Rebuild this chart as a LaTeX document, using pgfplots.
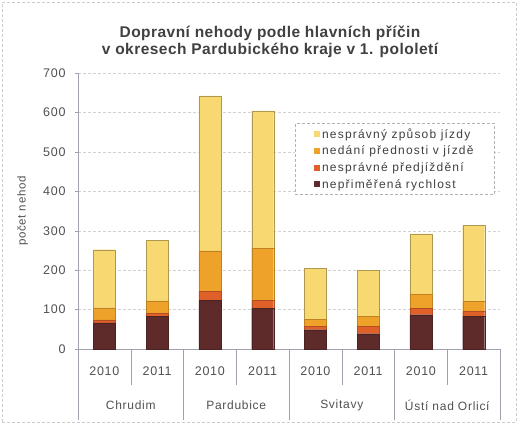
\documentclass[border=0pt]{standalone}
\usepackage{pgfplots}
\pgfplotsset{compat=1.18}
\usepackage{fontspec}
\setmainfont{Liberation Sans}
\newfontfamily\spfA[LetterSpace=6]{Liberation Sans}
\newfontfamily\spfL[LetterSpace=10]{Liberation Sans}
\newfontfamily\spfT[LetterSpace=3]{Liberation Sans}
\definecolor{cYel}{HTML}{F8D870}
\definecolor{cOra}{HTML}{EFA22A}
\definecolor{cRed}{HTML}{E0602A}
\definecolor{cDrk}{HTML}{5E2A2A}
\definecolor{txt}{HTML}{505050}
\definecolor{axc}{HTML}{A0A0B0}
\begin{document}
\begin{tikzpicture}[x=1pt,y=1pt]
\path[use as bounding box] (0,0) rectangle (518,424);
\draw[densely dashed, gray!40] (2,2) rectangle (516,422);
\begin{axis}[
  at={(78pt,75pt)}, anchor=south west,
  scale only axis, width=422pt, height=276pt,
  ybar stacked, bar width=22pt,
  xmin=-0.5, xmax=7.5, ymin=0, ymax=700,
  ytick={0,100,...,700},
  xtick={0,...,7},
  xticklabels={2010,2011,2010,2011,2010,2011,2010,2011},
  xtick style={draw=none},
  x tick label style={font=\spfA\fontsize{12.5}{13}\selectfont, text=txt, yshift=-11pt},
  y tick label style={font=\spfA\fontsize{12.5}{13}\selectfont, text=txt, xshift=-6pt},
  /pgf/number format/assume math mode=true,
  ytick style={axc, thin},
  tick align=outside, major tick length=3pt,
  ymajorgrids, grid style={densely dashed, gray!35},
  axis x line*=bottom, axis y line*=left,
  axis line style={axc, thin},
  x axis line style={-}, y axis line style={-},
  ylabel={počet nehod},
  ylabel style={font=\spfA\fontsize{11.5}{12}\selectfont, text=txt, at={(axis description cs:-0.131,0.5)}, anchor=center},
  title={Dopravní nehody podle hlavních příčin\\v okresech Pardubického kraje v 1. pololetí},
  title style={font=\spfT\fontsize{15.5}{17.5}\selectfont\bfseries, text=txt!80!black, align=center, at={(axis description cs:0.455,1.02)}, anchor=south},
  clip=false,
  legend style={at={(axis description cs:0.514,0.818)}, anchor=north west, draw=gray!60, densely dashed, font=\spfL\fontsize{12}{13.5}\selectfont, text=txt!80!black, inner xsep=19pt, inner ysep=3pt, row sep=2.3pt},
  legend cell align=left,
  reverse legend,
  legend image code/.code={\draw[solid,fill,draw=none] (0pt,-3pt) rectangle (6pt,3pt);},
]
\addplot[fill=cDrk, draw=cDrk!80!black, very thin] coordinates {(0,66) (1,83) (2,123) (3,104) (4,49) (5,39) (6,87) (7,83)};
\addplot[fill=cRed, draw=cRed!80!black, very thin] coordinates {(0,8) (1,8) (2,23) (3,19) (4,8) (5,18) (6,17) (7,12)};
\addplot[fill=cOra, draw=cOra!80!black, very thin] coordinates {(0,31) (1,31) (2,103) (3,133) (4,19) (5,26) (6,35) (7,26)};
\addplot[fill=cYel, draw=cYel!70!black, very thin] coordinates {(0,147) (1,153) (2,393) (3,348) (4,129) (5,116) (6,153) (7,192)};
\legend{nepřiměřená rychlost, nesprávné předjíždění, nedání přednosti v jízdě, nesprávný způsob jízdy}
% separators
\pgfplotsinvokeforeach{0.5,2.5,4.5,6.5}{
  \draw[axc, thin] (axis cs:#1,0) -- ([yshift=-36pt]axis cs:#1,0);
}
\pgfplotsinvokeforeach{-0.5,1.5,3.5,5.5,7.5}{
  \draw[axc, thin] (axis cs:#1,0) -- ([yshift=-71pt]axis cs:#1,0);
}
\node[font=\spfA\fontsize{12}{12}\selectfont, text=txt] at ([yshift=-56pt]axis cs:0.5,0) {Chrudim};
\node[font=\spfA\fontsize{12}{12}\selectfont, text=txt] at ([yshift=-56pt]axis cs:2.5,0) {Pardubice};
\node[font=\spfA\fontsize{12}{12}\selectfont, text=txt] at ([yshift=-56pt]axis cs:4.5,0) {Svitavy};
\node[font=\spfA\fontsize{12}{12}\selectfont, text=txt] at ([yshift=-56pt]axis cs:6.5,0) {Ústí nad Orlicí};
\end{axis}
\end{tikzpicture}
\end{document}
